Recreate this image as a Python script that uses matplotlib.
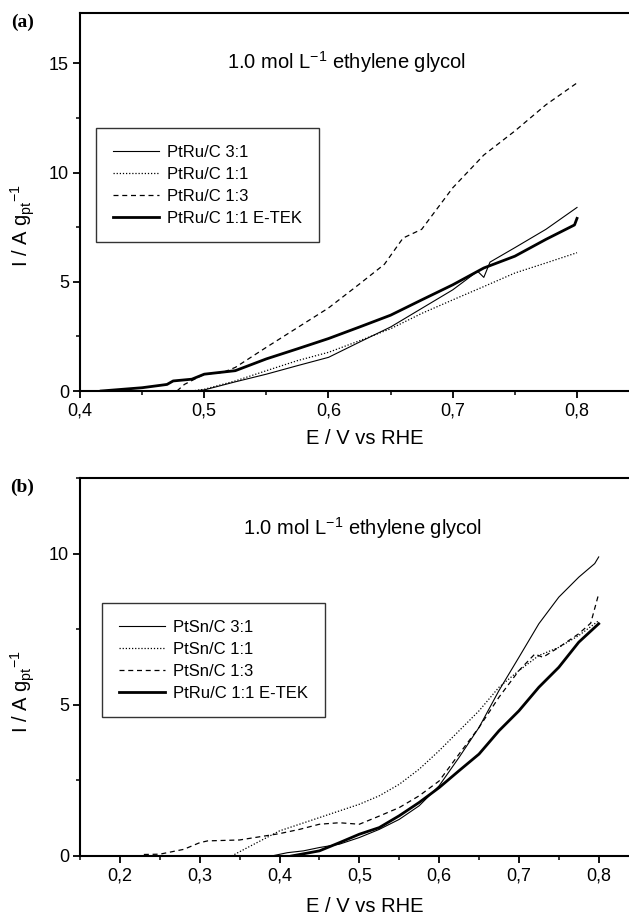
import matplotlib
matplotlib.use("Agg")
from matplotlib import pyplot as plt
from matplotlib.ticker import FixedLocator, MultipleLocator

plt.rcParams['font.family'] = ['Liberation Sans', 'DejaVu Sans']
plt.rcParams['mathtext.fontset'] = 'custom'
plt.rcParams['mathtext.rm'] = 'Liberation Sans'
plt.rcParams['mathtext.it'] = 'Liberation Sans'

# panel (a): PtRu/C catalysts
e_13a = [0.478, 0.484, 0.50, 0.515, 0.525, 0.55, 0.575, 0.60, 0.625, 0.645, 0.66, 0.675, 0.70, 0.725, 0.75, 0.775, 0.80]
i_13a = [0.0, 0.3, 0.77, 0.85, 1.08, 2.0, 2.9, 3.8, 4.9, 5.8, 7.0, 7.4, 9.3, 10.8, 11.9, 13.1, 14.1]

e_31a = [0.49, 0.50, 0.525, 0.55, 0.575, 0.60, 0.625, 0.65, 0.675, 0.70, 0.72, 0.725, 0.73, 0.75, 0.775, 0.80]
i_31a = [0.0, 0.05, 0.42, 0.77, 1.16, 1.54, 2.24, 2.93, 3.78, 4.63, 5.48, 5.2, 5.9, 6.56, 7.4, 8.4]

e_11a = [0.49, 0.50, 0.525, 0.55, 0.575, 0.60, 0.625, 0.65, 0.675, 0.70, 0.725, 0.75, 0.775, 0.80]
i_11a = [0.0, 0.08, 0.46, 0.93, 1.39, 1.77, 2.3, 2.85, 3.55, 4.17, 4.78, 5.4, 5.86, 6.33]

e_etek_a = [0.417, 0.45, 0.47, 0.475, 0.49, 0.50, 0.525, 0.55, 0.575, 0.60, 0.625, 0.65, 0.675, 0.70, 0.725, 0.75, 0.775, 0.798, 0.80]
i_etek_a = [0.0, 0.15, 0.3, 0.46, 0.54, 0.77, 0.93, 1.47, 1.93, 2.4, 2.93, 3.47, 4.17, 4.86, 5.63, 6.17, 6.94, 7.6, 7.9]

# panel (b): PtSn/C catalysts
e_13b = [0.23, 0.25, 0.28, 0.30, 0.31, 0.35, 0.40, 0.425, 0.45, 0.475, 0.50, 0.525, 0.55, 0.575, 0.60, 0.625, 0.65, 0.675, 0.70, 0.72, 0.73, 0.75, 0.775, 0.79, 0.80]
i_13b = [0.05, 0.06, 0.22, 0.44, 0.5, 0.53, 0.74, 0.88, 1.05, 1.1, 1.05, 1.32, 1.6, 1.99, 2.48, 3.37, 4.25, 5.25, 6.13, 6.68, 6.57, 6.9, 7.35, 7.7, 8.67]

e_11b = [0.34, 0.36, 0.40, 0.45, 0.50, 0.525, 0.55, 0.575, 0.60, 0.625, 0.65, 0.675, 0.70, 0.725, 0.75, 0.775, 0.80]
i_11b = [0.0, 0.28, 0.83, 1.27, 1.71, 1.99, 2.37, 2.87, 3.48, 4.14, 4.8, 5.58, 6.13, 6.63, 6.9, 7.29, 7.78]

e_31b = [0.39, 0.41, 0.43, 0.45, 0.475, 0.50, 0.525, 0.55, 0.575, 0.60, 0.625, 0.65, 0.675, 0.70, 0.725, 0.75, 0.775, 0.795, 0.80]
i_31b = [0.0, 0.11, 0.17, 0.28, 0.39, 0.61, 0.88, 1.21, 1.66, 2.32, 3.26, 4.25, 5.47, 6.57, 7.68, 8.56, 9.22, 9.67, 9.89]

e_etek_b = [0.415, 0.45, 0.475, 0.50, 0.525, 0.55, 0.575, 0.60, 0.625, 0.65, 0.675, 0.70, 0.725, 0.75, 0.775, 0.80]
i_etek_b = [0.0, 0.17, 0.44, 0.72, 0.94, 1.33, 1.77, 2.26, 2.82, 3.37, 4.14, 4.8, 5.58, 6.24, 7.07, 7.68]

labels_a = ["PtRu/C 3:1", "PtRu/C 1:1", "PtRu/C 1:3", "PtRu/C 1:1 E-TEK"]
labels_b = ["PtSn/C 3:1", "PtSn/C 1:1", "PtSn/C 1:3", "PtRu/C 1:1 E-TEK"]

xticks_a = [0.4, 0.5, 0.6, 0.7, 0.8]
xticks_b = [0.2, 0.3, 0.4, 0.5, 0.6, 0.7, 0.8]
yticks_a = [0, 5, 10, 15]
yticks_b = [0, 5, 10]

TITLE = r"1.0 mol L$^{\mathrm{-1}}$ ethylene glycol"
YLAB = r"I / A g$_{\mathrm{pt}}$$^{\mathrm{-1}}$"


def style_axes(ax, xticks, yticks, xlim, ylim, xpad):
    ax.set_xlim(*xlim)
    ax.set_ylim(*ylim)
    ax.spines['right'].set_visible(False)
    for s in ['left', 'top', 'bottom']:
        ax.spines[s].set_linewidth(1.5)
    ax.xaxis.set_major_locator(FixedLocator(xticks))
    ax.set_xticklabels([("%.1f" % v).replace(".", ",") for v in xticks])
    ax.xaxis.set_minor_locator(MultipleLocator(0.05))
    ax.yaxis.set_major_locator(FixedLocator(yticks))
    ax.set_yticklabels([str(v) for v in yticks])
    ax.yaxis.set_minor_locator(MultipleLocator(2.5))
    ax.tick_params(which='major', direction='out', length=5, width=1.3, labelsize=13, pad=3)
    ax.tick_params(which='minor', direction='out', length=3, width=1.1)
    ax.set_xlabel("E / V vs RHE", fontsize=14.5, labelpad=xpad)


def draw(ax, curves, labels):
    styles = [dict(ls='-', lw=0.8), dict(ls=(0, (1, 1.5)), lw=0.9),
              dict(ls=(0, (4, 3)), lw=0.9), dict(ls='-', lw=2.0)]
    for (e, i), lab, st in zip(curves, labels, styles):
        ax.plot(e, i, color='black', label=lab, **st)


fig = plt.figure(figsize=(6.29, 9.17), dpi=100)
W, H = 629, 917
RIGHT = 650

ax1 = fig.add_axes([80 / W, 1 - 391 / H, (RIGHT - 80) / W, (391 - 13) / H])
draw(ax1, [(e_31a, i_31a), (e_11a, i_11a), (e_13a, i_13a), (e_etek_a, i_etek_a)], labels_a)
style_axes(ax1, xticks_a, yticks_a, (0.4, 0.4 + (RIGHT - 80) / 1242.5), (0, 17.3), 7)
fig.text(227 / W, 1 - 62 / H, TITLE, fontsize=14.5, ha='left', va='center')

ax2 = fig.add_axes([80 / W, 1 - 856 / H, (RIGHT - 80) / W, (856 - 478) / H])
draw(ax2, [(e_31b, i_31b), (e_11b, i_11b), (e_13b, i_13b), (e_etek_b, i_etek_b)], labels_b)
style_axes(ax2, xticks_b, yticks_b, (0.15, 0.15 + (RIGHT - 80) / 798.0), (0, 12.5), 9)
fig.text(243 / W, 1 - 528 / H, TITLE, fontsize=14.5, ha='left', va='center')

for ycen in [226, 692]:
    fig.text(23 / W, 1 - ycen / H, YLAB, fontsize=14.5, rotation=90, ha='center', va='center')

for ax, (x0, y0) in [(ax1, (96, 128)), (ax2, (102, 603))]:
    leg = ax.legend(loc='upper left', frameon=True, fancybox=False, fontsize=12,
                    handlelength=2.8, handletextpad=0.45, labelspacing=0.42,
                    borderpad=1.0, borderaxespad=0,
                    bbox_to_anchor=(x0 / W, 1 - y0 / H), bbox_transform=fig.transFigure)
    leg.get_frame().set_edgecolor('black')
    leg.get_frame().set_linewidth(1.0)

fig.text(23 / W, 1 - 22 / H, "(a)", fontsize=14, fontweight='bold', family='Liberation Serif',
         ha='center', va='center')
fig.text(22 / W, 1 - 487 / H, "(b)", fontsize=14, fontweight='bold', family='Liberation Serif',
         ha='center', va='center')

fig.savefig("out.png", dpi=100)
